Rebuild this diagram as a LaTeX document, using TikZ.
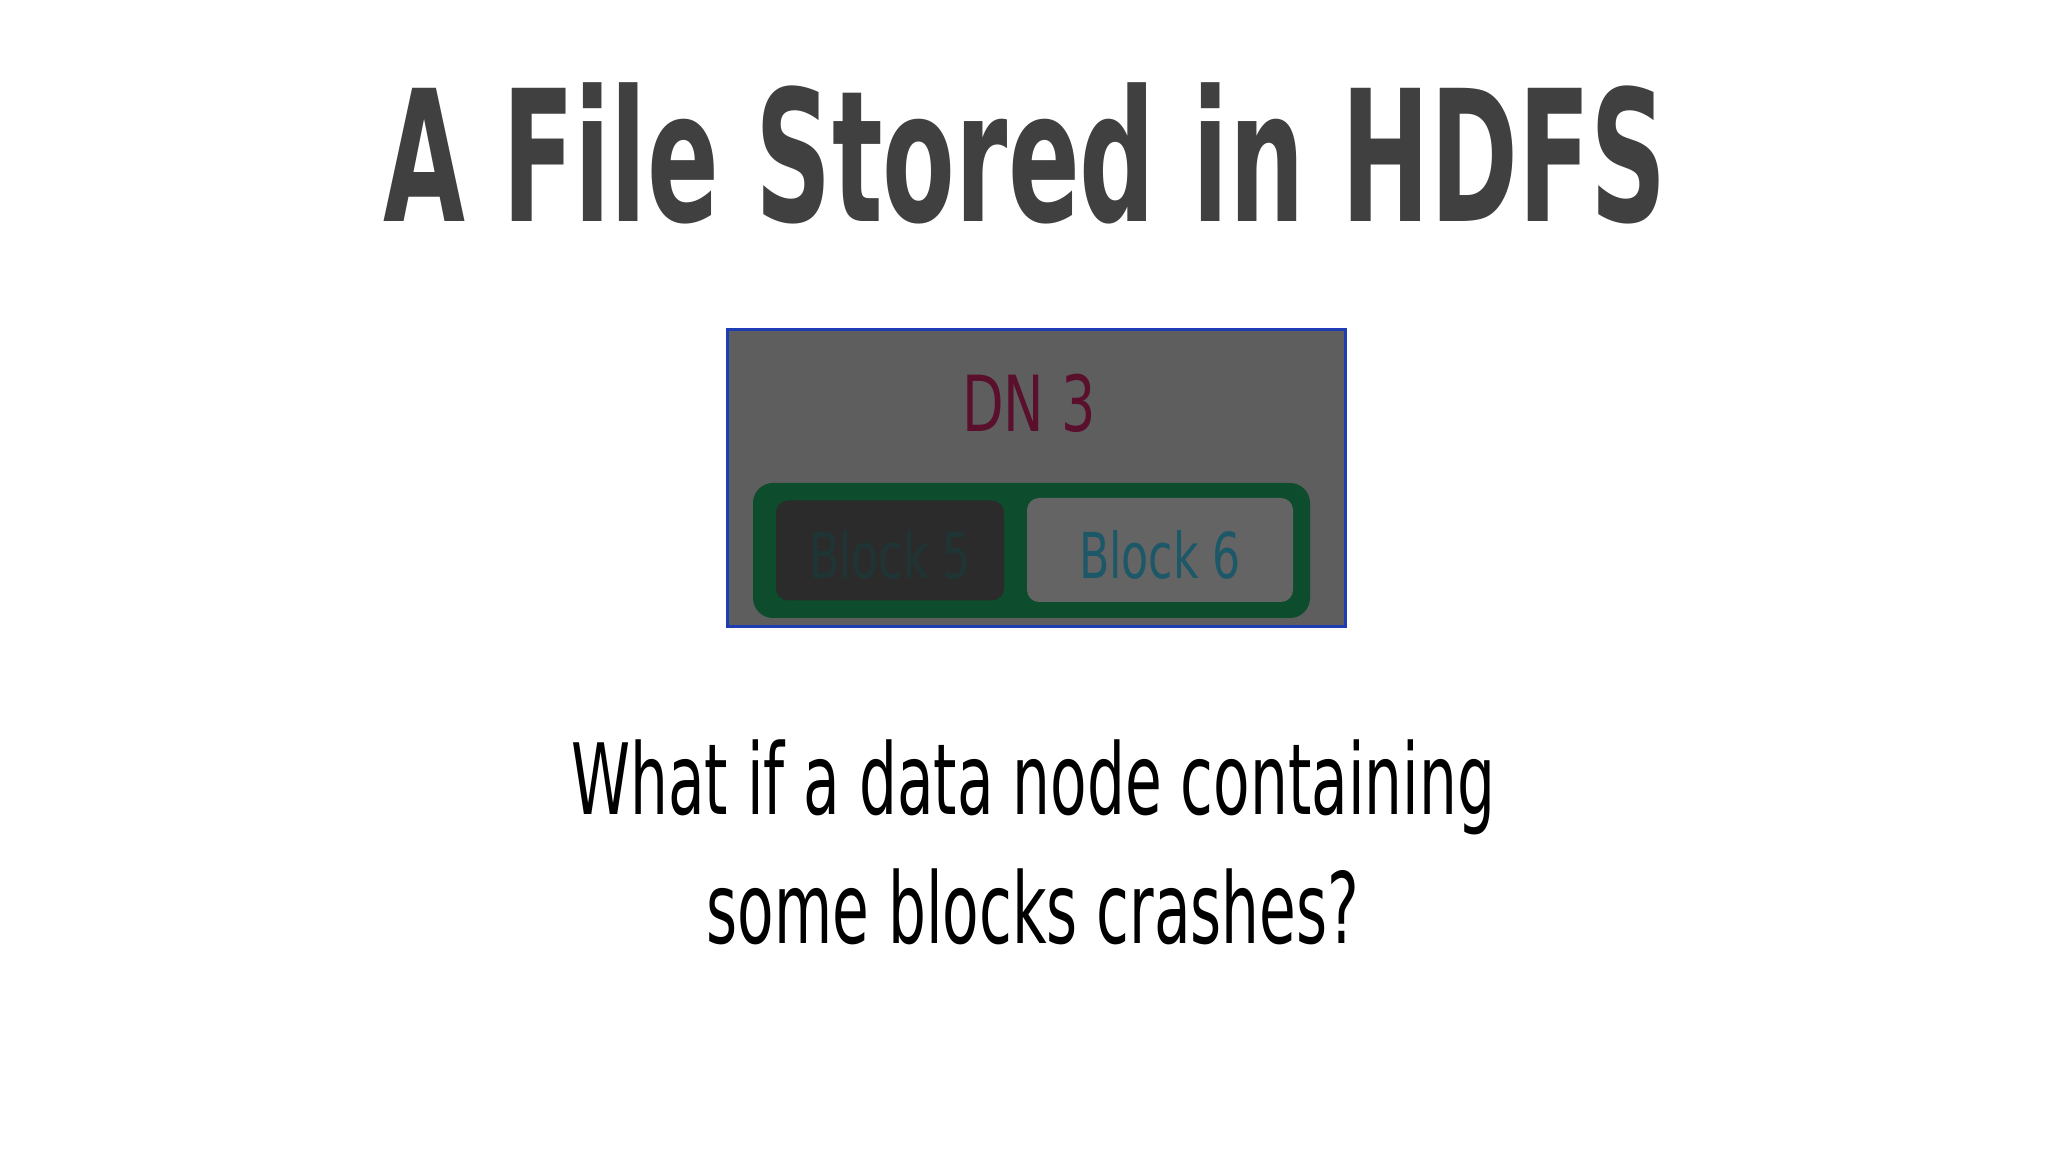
\documentclass[tikz,border=0pt]{standalone}
\usepackage{fontspec}
\newfontfamily\titlefont[FakeStretch=0.58]{DejaVu Sans}
\newfontfamily\handfont[FakeStretch=0.607]{DejaVu Sans}
\newfontfamily\boxfont[FakeStretch=0.7]{DejaVu Sans}
\definecolor{titlegray}{HTML}{404040}
\definecolor{dnfill}{HTML}{5E5E5E}
\definecolor{dnblue}{HTML}{1E3CB4}
\definecolor{dnred}{HTML}{5A0F2D}
\definecolor{framegreen}{HTML}{0D4D2E}
\definecolor{darkblock}{HTML}{2B2B2B}
\definecolor{lightblock}{HTML}{646464}
\definecolor{blockfive}{HTML}{1F3535}
\definecolor{blocksix}{HTML}{1D5868}
\begin{document}
\begin{tikzpicture}[x=1mm,y=1mm,
  blockbox/.style={rounded corners=1.2mm, minimum width=#1, minimum height=10mm, inner sep=0pt},
  blocktext/.style={font=\boxfont\fontsize{18}{20}\selectfont}]
\useasboundingbox [fill=white] (0,0) rectangle (204.8,115.2);
\node [anchor=base, text=titlegray, font=\titlefont\bfseries\fontsize{52}{60}\selectfont] (title) at (102.5,93.0) {A File Stored in HDFS};
\node [draw=dnblue, line width=0.3mm, fill=dnfill, minimum width=61.8mm, minimum height=29.7mm, inner sep=0pt] (dn) at (103.6,67.35) {};
\node [anchor=base, text=dnred, font=\boxfont\fontsize{22}{26}\selectfont] (dnlabel) at (102.9,72.0) {DN 3};
\node [fill=framegreen, rounded corners=2mm, minimum width=55.7mm, minimum height=13.5mm, inner sep=0pt] (frame) at (103.15,60.15) {};
\node [blockbox=22.8mm, fill=darkblock] (block5) at (89.0,60.15) {};
\node [blockbox=26.6mm, fill=lightblock, minimum height=10.4mm] (block6) at (116.0,60.2) {};
\node [anchor=base, text=blockfive, blocktext] (b5label) at (block5.center |- 0,57.3) {Block 5};
\node [anchor=base, text=blocksix, blocktext] (b6label) at (block6.center |- 0,57.3) {Block 6};
\node [anchor=base, font=\handfont\fontsize{28}{34}\selectfont] (q1) at (103.3,33.8) {What if a data node containing};
\node [anchor=base, font=\handfont\fontsize{28}{34}\selectfont] (q2) at (103.3,20.9) {some blocks crashes?};
\end{tikzpicture}
\end{document}
